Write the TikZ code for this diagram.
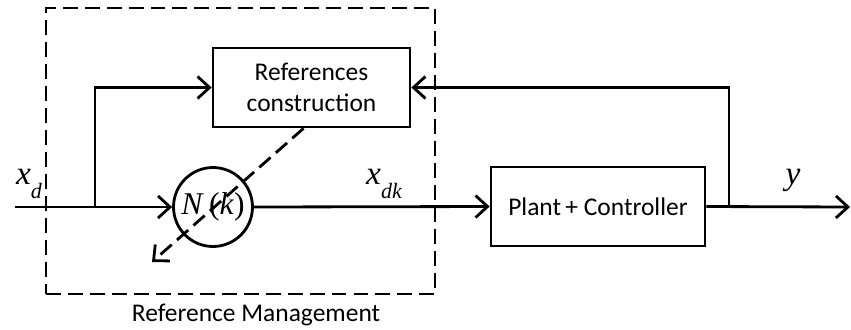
\documentclass[tikz,border=0pt]{standalone}
\usepackage{fontspec}
\setsansfont{Carlito}
\newfontfamily\sigfont{Liberation Serif}
\usetikzlibrary{calc,positioning,arrows.meta}
\newcommand{\sigsub}[1]{\raisebox{-0.4em}{\fontsize{12.5}{13}\selectfont\itshape #1}}
\tikzset{
  blockbox/.style={draw, align=center, inner sep=2pt, font=\sffamily\fontsize{14.5}{17.5}\selectfont},
  sumcirc/.style={draw, circle, minimum size=1.58cm, inner sep=0pt, font=\sigfont\fontsize{18}{20}\selectfont},
  siglabel/.style={font=\sigfont\itshape\fontsize{19}{21}\selectfont, inner sep=0pt},
  mgmtline/.style={dashed, dash pattern=on 8.5pt off 4pt}
}
\begin{document}
\begin{tikzpicture}[x=0.02cm,y=-0.02cm,line width=1.6pt,>={Straight Barb[length=2.4mm,width=4.4mm,line width=1.6pt]}]
  \useasboundingbox (0,0) rectangle (851,329);

  \node[blockbox, minimum width=3.94cm, minimum height=1.58cm] (refc) at (311.5,87.5) {References\\construction};
  \node[sumcirc] (nk) at (213,207) {\textit{N}\,(\textit{k})};
  \node[blockbox, minimum width=4.28cm, minimum height=1.58cm] (plant) at (598,206.5) {Plant\,+ Controller};
  \node[draw, mgmtline, minimum width=7.78cm, minimum height=5.72cm] (mgmt) at (240.5,151) {};
  \node[font=\sffamily\fontsize{14.5}{17}\selectfont, inner sep=0pt] (mgmtlbl) at (256,315) {Reference Management};

  \coordinate (in) at (15,207);
  \coordinate (split) at (95,207);
  \coordinate (fb) at (729,207);
  \coordinate (out) at (850,207);
  \coordinate (tip) at (152,262);

  \node[siglabel] (xd) at (29,184) {x\sigsub{d}};
  \node[siglabel] (xdk) at (384,184) {x\sigsub{dk}};
  \node[siglabel] (yout) at (793,180) {y};

  \draw[->] (in) -- (nk.west);
  \draw[->] (split) |- (refc.west);
  \draw[->] (nk.east) -- (plant.west);
  \draw[->] (plant.east) -- (out);
  \draw[->] (fb) |- (refc.east);
  \draw[->, mgmtline] ($(refc.south)+(-8,0)$) -- (tip);
\end{tikzpicture}
\end{document}
